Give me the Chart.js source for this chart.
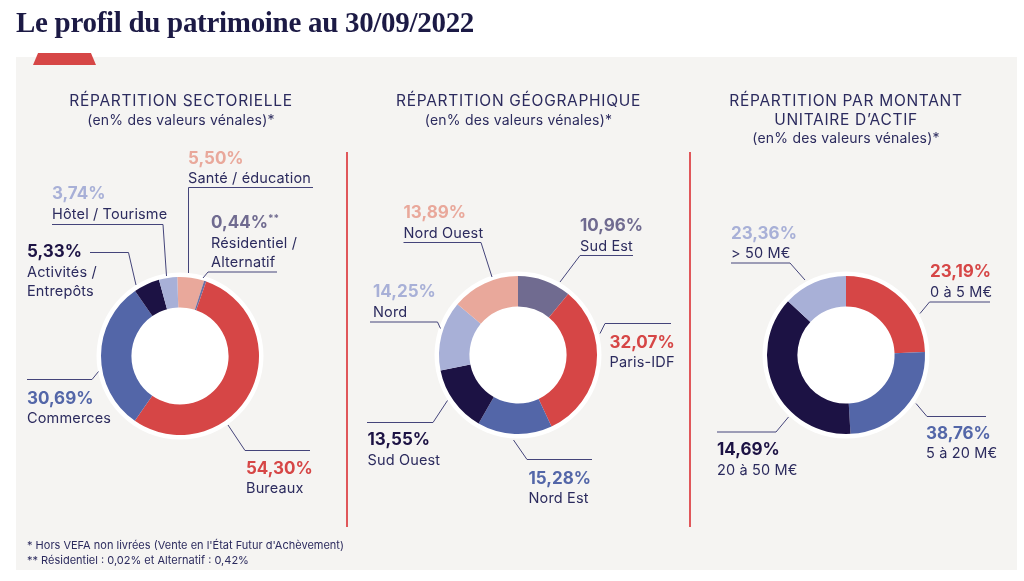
<!DOCTYPE html>
<html lang="fr">
<head>
<meta charset="utf-8">
<title>Le profil du patrimoine au 30/09/2022</title>
<script src="https://cdn.jsdelivr.net/npm/chart.js@4/dist/chart.umd.min.js"></script>
<style>
  html, body { margin: 0; padding: 0; background: #ffffff; }
  body { width: 1024px; height: 581px; position: relative; overflow: hidden; font-family: "Inter", "Noto Sans", sans-serif; }
  #panneau { position: absolute; left: 16px; top: 57px; width: 1001px; height: 513px; background: #f5f4f2; }
  #onglet { position: absolute; left: 33px; top: 53px; width: 63px; height: 12px; background: #d64646;
            clip-path: polygon(8% 0, 92% 0, 100% 100%, 0 100%); }
  .sep { position: absolute; top: 152px; width: 2px; height: 375px; background: #e0575a; }
  canvas.donut { position: absolute; width: 200px; height: 200px; }
  #calque { position: absolute; left: 0; top: 0; }
</style>
</head>
<body>
<div id="panneau"></div>
<div id="onglet"></div>
<div class="sep" style="left:346px"></div>
<div class="sep" style="left:689px"></div>
<canvas id="graphSecteur" class="donut" width="200" height="200" style="left:80px;top:256px"></canvas>
<canvas id="graphGeo" class="donut" width="200" height="200" style="left:418px;top:255px"></canvas>
<canvas id="graphMontant" class="donut" width="200" height="200" style="left:746px;top:255px"></canvas>
<svg id="calque" width="1024" height="581" xmlns="http://www.w3.org/2000/svg"></svg>

<script>
// Répartition sectorielle (sens horaire depuis le haut)
const secteurs = ["Santé / éducation", "Résidentiel / Alternatif", "Bureaux", "Commerces", "Activités / Entrepôts", "Hôtel / Tourisme"];
const secteursValeurs = [5.50, 0.44, 54.30, 30.69, 5.33, 3.74];

// Répartition géographique
const regions = ["Sud Est", "Paris-IDF", "Nord Est", "Sud Ouest", "Nord", "Nord Ouest"];
const regionsValeurs = [10.96, 32.07, 15.28, 13.55, 14.25, 13.89];

// Répartition par montant unitaire d'actif
const montants = ["0 à 5 M€", "5 à 20 M€", "20 à 50 M€", "> 50 M€"];
// pourcentages tels qu'imprimés sur les étiquettes
const montantsEtiquettes = [23.19, 38.76, 14.69, 23.36];
// parts des secteurs telles que dessinées dans l'anneau
const montantsParts = [24.4, 24.7, 37.8, 13.1];

const ROUGE = "#d64646", BLEU = "#5366a8", MARINE = "#1c1244", LAVANDE = "#a8b0d7", ROSE = "#e9a89b", GRIS = "#706b90";
const TEXTE = "#2c2b5e", TRAIT = "#44447a";

const svg = document.getElementById("calque");
const NS = "http://www.w3.org/2000/svg";

function pct(v) {
    return v.toFixed(2).replace(".", ",") + "%";
}

function texte(x, y, contenu, opts = {}) {
    const t = document.createElementNS(NS, "text");
    t.setAttribute("x", x);
    t.setAttribute("y", y);
    t.setAttribute("fill", opts.couleur || TEXTE);
    t.setAttribute("font-size", opts.taille || 14.5);
    t.setAttribute("font-family", opts.police || "Inter, 'Noto Sans', sans-serif");
    if (opts.gras) t.setAttribute("font-weight", "700");
    if (opts.ancre) t.setAttribute("text-anchor", opts.ancre);
    if (opts.espace) t.setAttribute("letter-spacing", opts.espace);
    t.textContent = contenu;
    svg.appendChild(t);
    return t;
}

function trait(points) {
    const p = document.createElementNS(NS, "polyline");
    p.setAttribute("points", points.map(pt => pt.join(",")).join(" "));
    p.setAttribute("fill", "none");
    p.setAttribute("stroke", TRAIT);
    p.setAttribute("stroke-width", "1");
    svg.appendChild(p);
}

// étiquette : pourcentage en gras puis lignes du libellé, et trait de rappel
function etiquette(x, y, valeur, couleur, lignes, points, suffixe) {
    const t = texte(x, y, pct(valeur), {couleur: couleur, gras: true, taille: 17});
    if (suffixe) {
        const s = document.createElementNS(NS, "tspan");
        s.setAttribute("font-size", "10");
        s.setAttribute("dy", "-6");
        s.textContent = suffixe;
        t.appendChild(s);
    }
    lignes.forEach((l, i) => texte(x, y + 19.5 * (i + 1), l, {taille: 14.5, espace: "0.15"}));
    trait(points);
}

// fond blanc sous l'anneau (halo + trou central)
const fondBlanc = {
    id: "fondBlanc",
    beforeDatasetsDraw(chart) {
        const arc = chart.getDatasetMeta(0).data[0];
        if (!arc) return;
        const ctx = chart.ctx;
        ctx.save();
        ctx.beginPath();
        ctx.arc(arc.x, arc.y, arc.outerRadius + 4.5, 0, Math.PI * 2);
        ctx.fillStyle = "#ffffff";
        ctx.fill();
        ctx.restore();
    }
};

function donut(id, libelles, valeurs, couleurs, rotation) {
    return new Chart(document.getElementById(id), {
        type: "doughnut",
        data: {
            labels: libelles,
            datasets: [{
                data: valeurs,
                backgroundColor: couleurs,
                borderWidth: 0,
                hoverOffset: 0
            }]
        },
        options: {
            responsive: false,
            animation: false,
            events: [],
            cutout: "61.5%",
            rotation: rotation,
            layout: { padding: 21 },
            plugins: { legend: { display: false }, tooltip: { enabled: false } }
        },
        plugins: [fondBlanc]
    });
}

donut("graphSecteur", secteurs, secteursValeurs, [ROSE, "#6a70a2", ROUGE, BLEU, MARINE, LAVANDE], -2);
donut("graphGeo", regions, regionsValeurs, [GRIS, ROUGE, BLEU, MARINE, LAVANDE, ROSE], 0);
donut("graphMontant", montants, montantsParts, [ROUGE, BLEU, MARINE, LAVANDE], 0);

// Titre
texte(16, 32, "Le profil du patrimoine au 30/09/2022", {police: "'Liberation Serif', serif", gras: true, taille: 29, couleur: "#1c1a45", espace: "-0.3"});

// En-têtes de colonnes
const entete = {taille: 15.5, ancre: "middle", espace: "0.7"};
const sousTitre = {taille: 14, ancre: "middle", espace: "0.2"};
texte(181, 106, "RÉPARTITION SECTORIELLE", entete);
texte(181, 125, "(en% des valeurs vénales)*", sousTitre);
texte(518.5, 106, "RÉPARTITION GÉOGRAPHIQUE", entete);
texte(518.5, 125, "(en% des valeurs vénales)*", sousTitre);
texte(846, 106, "RÉPARTITION PAR MONTANT", entete);
texte(846, 125, "UNITAIRE D’ACTIF", entete);
texte(846, 143, "(en% des valeurs vénales)*", sousTitre);

// Étiquettes - sectorielle
etiquette(188, 163.5, secteursValeurs[0], ROSE, [secteurs[0]], [[313, 187.5], [188.5, 187.5], [188.5, 273]]);
etiquette(211, 228, secteursValeurs[1], GRIS, ["Résidentiel /", "Alternatif"], [[277, 272], [208, 272], [203, 278]], "**");
etiquette(246, 473.5, secteursValeurs[2], ROUGE, [secteurs[2]], [[228, 425], [245, 450.5], [310, 450.5]]);
etiquette(27, 403.5, secteursValeurs[3], BLEU, [secteurs[3]], [[27, 379.5], [92, 379.5], [98.5, 371.5]]);
etiquette(27, 257, secteursValeurs[4], MARINE, ["Activités /", "Entrepôts"], [[90, 252.5], [128.5, 252.5], [136, 285]]);
etiquette(52, 199, secteursValeurs[5], LAVANDE, [secteurs[5]], [[52, 224.5], [163, 224.5], [166.5, 276]]);

// Étiquettes - géographique
etiquette(580, 231, regionsValeurs[0], GRIS, [regions[0]], [[633, 255.5], [580, 255.5], [560, 282]]);
etiquette(609.5, 347.5, regionsValeurs[1], ROUGE, [regions[1]], [[671, 323.5], [605, 323.5], [600, 333.5]]);
etiquette(528.5, 483.5, regionsValeurs[2], BLEU, [regions[2]], [[513.5, 440], [527, 459.5], [592, 459.5]]);
etiquette(367.5, 445, regionsValeurs[3], MARINE, [regions[3]], [[367, 422.5], [433, 422.5], [447.5, 400.5]]);
etiquette(373, 297, regionsValeurs[4], LAVANDE, [regions[4]], [[370, 322], [437.5, 322], [440.5, 328.5]]);
etiquette(403.5, 218, regionsValeurs[5], ROSE, [regions[5]], [[403.5, 242.5], [481, 242.5], [492, 277]]);

// Étiquettes - montant unitaire
etiquette(930, 277, montantsEtiquettes[0], ROUGE, [montants[0]], [[990, 302], [929.5, 302], [920, 313.5]]);
etiquette(926, 438.5, montantsEtiquettes[1], BLEU, [montants[1]], [[916, 403.5], [927, 416.5], [986, 416.5]]);
etiquette(717, 455, montantsEtiquettes[2], MARINE, [montants[2]], [[717, 432], [776, 432], [788.5, 417]]);
etiquette(731, 238.5, montantsEtiquettes[3], LAVANDE, [montants[3]], [[731, 263], [790, 263], [805, 280]]);

// Notes
texte(27, 548.5, "* Hors VEFA non livrées (Vente en l'État Futur d'Achèvement)", {taille: 11});
texte(27, 563.5, "** Résidentiel : 0,02% et Alternatif : 0,42%", {taille: 11});
</script>
</body>
</html>
